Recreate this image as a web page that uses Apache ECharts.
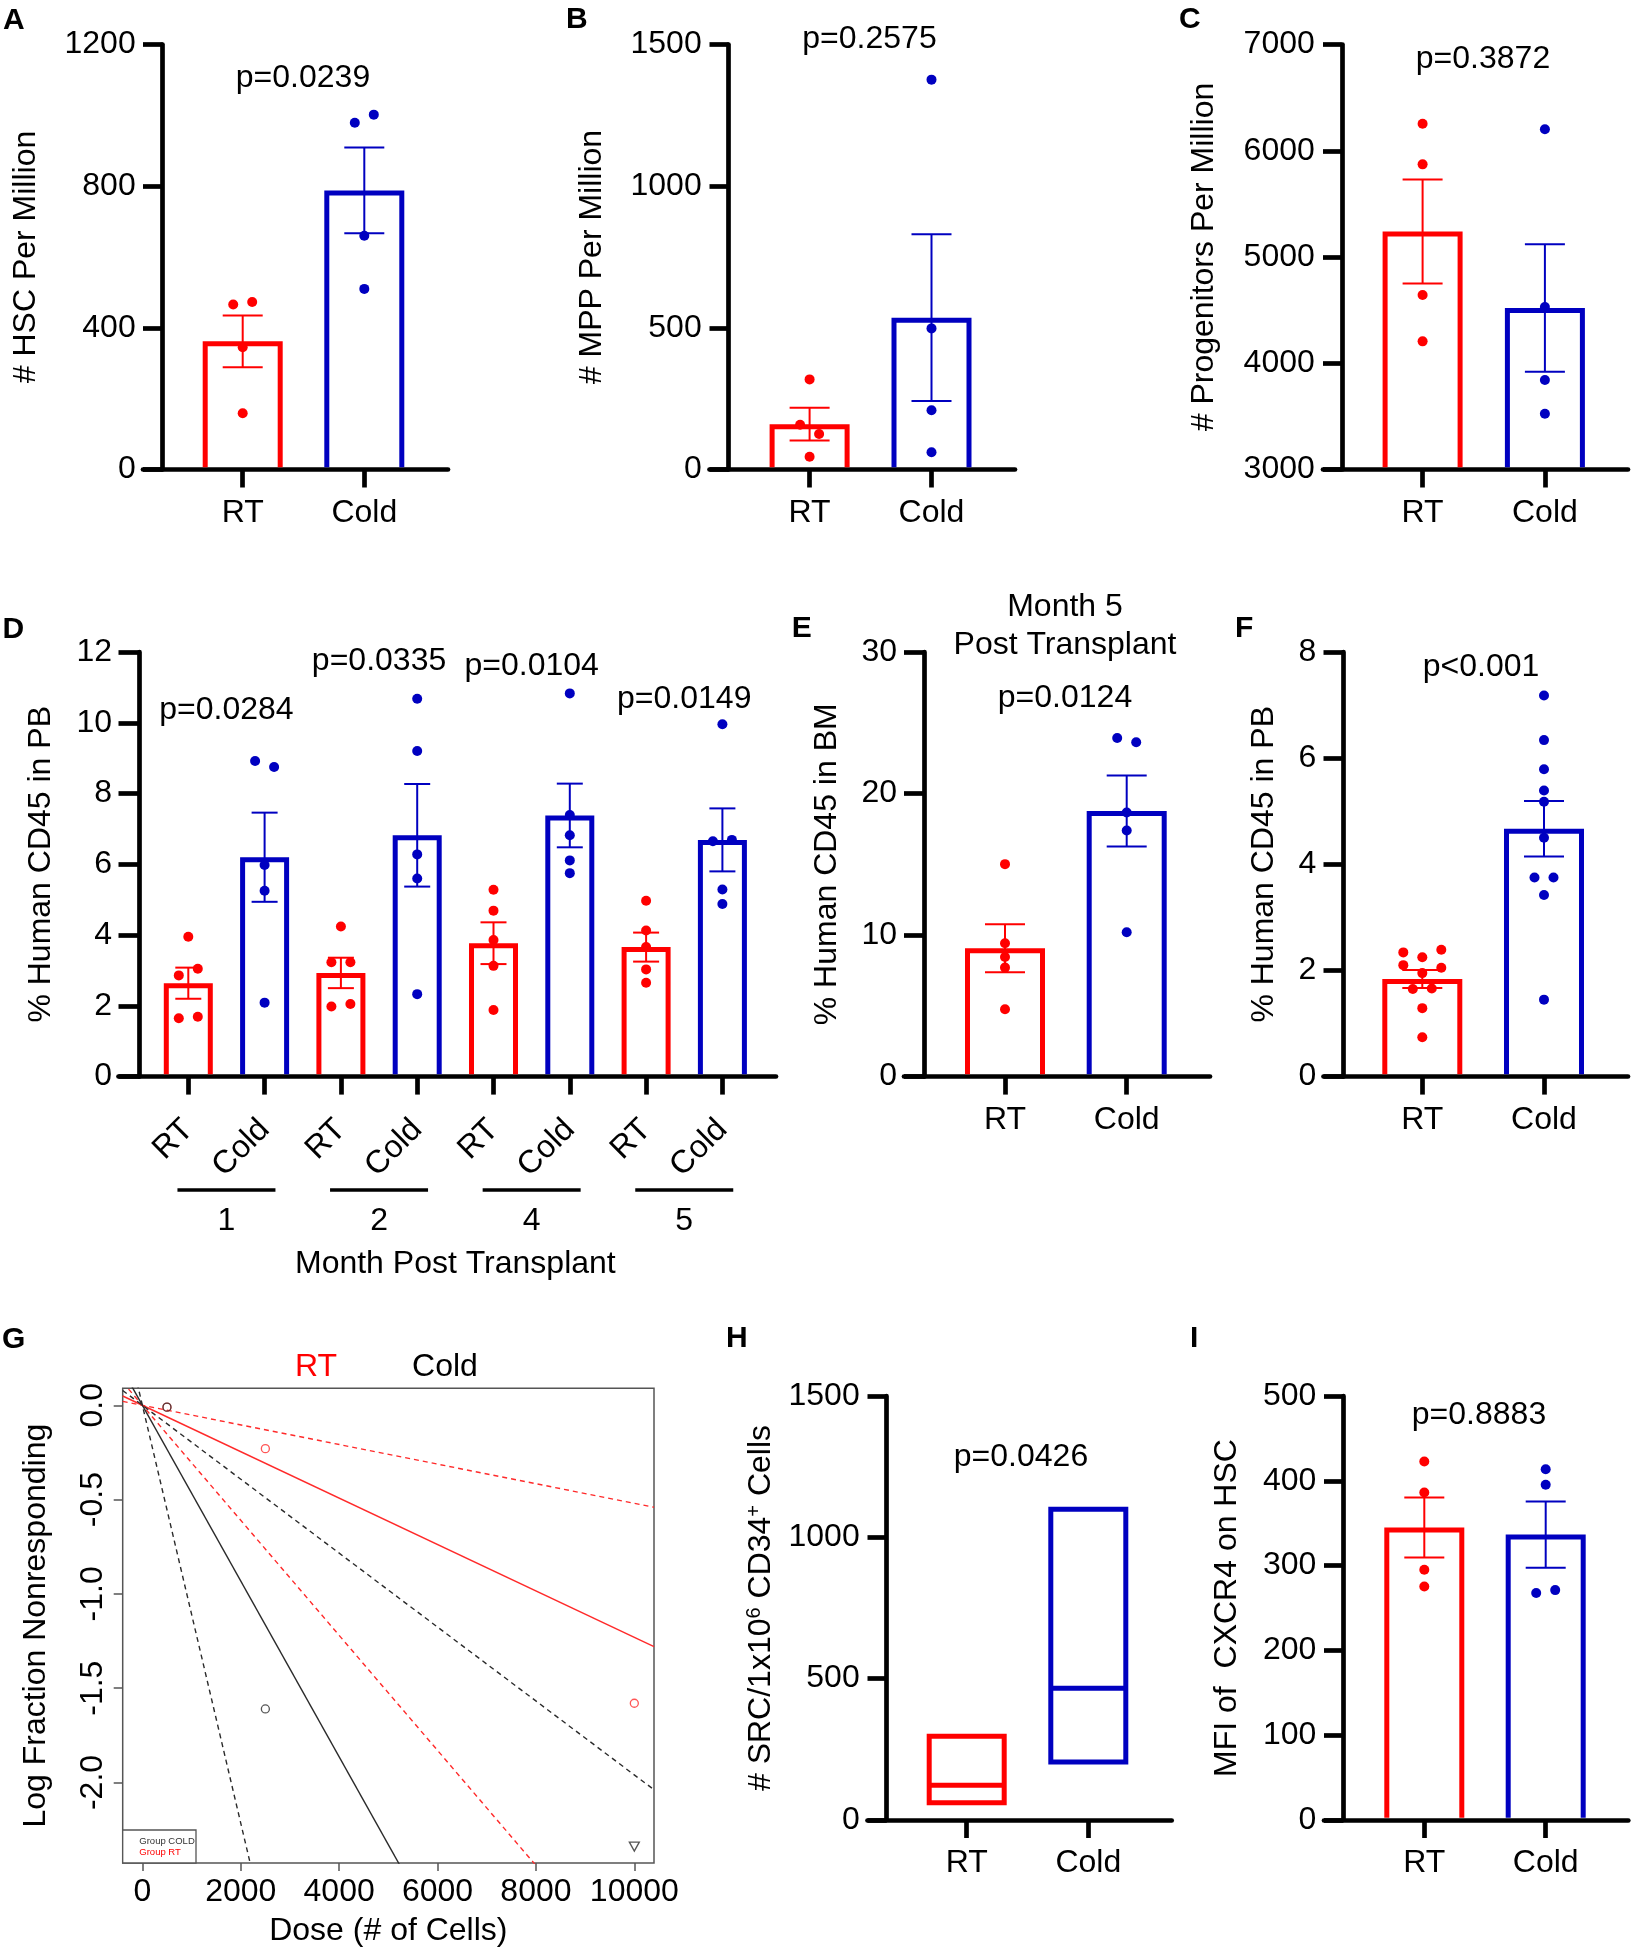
<!DOCTYPE html>
<html><head><meta charset="utf-8">
<script src="https://cdn.jsdelivr.net/npm/echarts@6/dist/echarts.min.js"></script>
<style>html,body{margin:0;padding:0;background:#fff}#c{width:1631px;height:1950px}</style>
</head><body><div id="c"></div>
<script>
// ================= DATA =================
const groupNames = ['RT', 'Cold'];

// A: # HSC per million
const hscMean = [362, 788];
const hscSEM = [73, 121];
const hscRT = [466, 473, 345, 159];
const hscCold = [979, 1002, 660, 510];
const hscP = 'p=0.0239';

// B: # MPP per million
const mppMean = [160, 536];
const mppSEM = [58, 294];
const mppRT = [318, 158, 125, 45];
const mppCold = [1376, 498, 209, 61];
const mppP = 'p=0.2575';

// C: # Progenitors per million
const progMean = [5240, 4520];
const progSEM = [490, 600];
const progRT = [6254, 5872, 4643, 4206];
const progCold = [6203, 4530, 3843, 3525];
const progP = 'p=0.3872';

// D: % human CD45 in PB by month
const pbCategories = ['RT', 'Cold', 'RT', 'Cold', 'RT', 'Cold', 'RT', 'Cold'];
const pbMonths = ['1', '2', '4', '5'];
const pbMean = [2.64, 6.20, 2.93, 6.82, 3.77, 7.38, 3.66, 6.69];
const pbSEM = [0.44, 1.26, 0.43, 1.45, 0.59, 0.90, 0.41, 0.89];
const pbPoints = [
  [3.95, 2.86, 3.05, 1.65, 1.69],
  [8.92, 8.75, 5.98, 5.25, 2.09],
  [4.24, 3.23, 3.23, 1.98, 2.05],
  [10.68, 9.20, 6.28, 5.60, 2.33],
  [5.28, 4.69, 3.86, 3.13, 1.88],
  [10.83, 7.39, 6.82, 6.11, 5.75],
  [4.97, 4.13, 3.66, 3.03, 2.65],
  [9.96, 6.65, 6.69, 5.29, 4.88]
];
const pbP = ['p=0.0284', 'p=0.0335', 'p=0.0104', 'p=0.0149'];

// E: % human CD45 in BM, month 5
const bmMean = [9.07, 18.76];
const bmSEM = [1.69, 2.51];
const bmRT = [15.01, 9.42, 8.45, 7.70, 4.76];
const bmCold = [23.92, 23.62, 18.66, 17.39, 10.20];
const bmP = 'p=0.0124';

// F: % human CD45 in PB
const pb2Mean = [1.84, 4.67];
const pb2SEM = [0.17, 0.525];
const pb2RT = [2.34, 2.25, 2.39, 2.10, 1.95, 2.05, 1.65, 1.66, 1.29, 0.74];
const pb2Cold = [7.18, 6.34, 5.79, 5.39, 5.18, 4.50, 3.75, 3.75, 3.42, 1.45];
const pb2P = 'p<0.001';

// G: limiting dilution
const gDoseTicks = [0, 2000, 4000, 6000, 8000, 10000];
const gLogTicks = [0, -0.5, -1, -1.5, -2];
const rtDoses = [500, 2500, 10000];
const rtLogFrac = [-0.01, -0.23, -1.58];
const coldDoses = [500, 2500];
const coldLogFrac = [-0.01, -1.61];
const coldAllRespDose = [10000];
const coldAllRespLog = [-2.34];

// H: SRC per 1e6 CD34+ cells  [lower, estimate, upper]
const srcRT = [52, 123, 305];
const srcCold = [196, 466, 1108];
const srcP = 'p=0.0426';

// I: MFI of CXCR4 on HSC
const cxcr4Mean = [345, 336.6];
const cxcr4SEM = [35.4, 39];
const cxcr4RT = [422.8, 386.2, 295.1, 275.3];
const cxcr4Cold = [413.6, 395.4, 267.7, 271.1];
const cxcr4P = 'p=0.8883';

// ================= STYLE / LAYOUT =================
const FONT = '"Liberation Sans", Arial, Helvetica, sans-serif';
const RED = '#FF0000', BLUE = '#0000C0', BLACK = '#000000';
const AXW = 4.7;

const grids = [], xAxes = [], yAxes = [], series = [], graphics = [];

function text(x, y, str, o) {
  o = o || {};
  graphics.push({
    type: 'text', x: x, y: y, z: 100, rotation: o.rotation || 0,
    style: {
      text: str, fill: o.color || BLACK, fontSize: o.size || 32,
      fontWeight: o.weight || 'normal', fontFamily: FONT,
      align: o.align || 'center', verticalAlign: 'middle'
    }
  });
}

function dodge(py, thresh, spacing) {
  const order = py.map((_, i) => i).sort((a, b) => (py[a] - py[b]) || (a - b));
  const off = new Array(py.length).fill(0);
  let group = [];
  const flush = () => {
    const g = group.slice().sort((a, b) => a - b);
    g.forEach((idx, k) => { off[idx] = (k - (g.length - 1) / 2) * spacing; });
  };
  order.forEach(i => {
    if (group.length && py[i] - py[group[0]] < thresh) group.push(i);
    else { if (group.length) flush(); group = [i]; }
  });
  if (group.length) flush();
  return off;
}

function barPanel(cfg) {
  const gi = grids.length;
  grids.push({
    left: cfg.xStart, top: cfg.top, width: cfg.xEnd - cfg.xStart,
    height: cfg.bottom - cfg.top, containLabel: false, outerBoundsMode: 'none'
  });
  const cats = cfg.cats;
  const catVals = cats.map((c, i) => i + 1);
  const xMin = 1 - (cfg.cat1 - cfg.xStart) / cfg.spacing;
  const xMax = 1 + (cfg.xEnd - cfg.cat1) / cfg.spacing;
  xAxes.push({
    gridIndex: gi, type: 'value', min: xMin, max: xMax,
    splitLine: { show: false },
    axisLine: { show: true, onZero: false, lineStyle: { color: BLACK, width: AXW } },
    axisTick: { show: true, customValues: catVals, length: 18, lineStyle: { color: BLACK, width: AXW } },
    axisLabel: {
      show: true, customValues: catVals, margin: cfg.labelMargin || 27.5,
      rotate: cfg.rotate || 0, fontSize: 32, color: BLACK, fontFamily: FONT,
      formatter: v => cats[Math.round(v) - 1]
    }
  });
  yAxes.push({
    gridIndex: gi, type: 'value', min: cfg.yMin, max: cfg.yMax, interval: cfg.yInterval,
    offset: -(cfg.yAxisX - cfg.xStart),
    splitLine: { show: false },
    axisLine: { show: true, onZero: false, lineStyle: { color: BLACK, width: AXW } },
    axisTick: { show: true, length: cfg.yAxisX - cfg.xStart, lineStyle: { color: BLACK, width: AXW } },
    axisLabel: { margin: 27, fontSize: 32, color: BLACK, fontFamily: FONT, formatter: v => String(v) },
    name: cfg.yName, nameLocation: 'middle', nameGap: cfg.nameGap, nameMoveOverlap: false,
    nameTextStyle: Object.assign({ fontSize: 32, color: BLACK, fontFamily: FONT }, cfg.nameRich ? { rich: cfg.nameRich } : {})
  });
  const barW = cfg.barW, sw = 5, hw = barW / 2, capHW = cfg.capHW;
  series.push({
    type: 'custom', xAxisIndex: gi, yAxisIndex: gi, clip: false, z: 5,
    data: catVals.map((v, i) => [v, cfg.floating ? cfg.floating[i][1] : cfg.means[i]]),
    renderItem: function (params, api) {
      const i = params.dataIndex;
      const v = i + 1;
      const base = api.coord([v, cfg.yMin]);
      const cx = base[0], yBase = base[1];
      const color = cfg.colors[i];
      const ch = [];
      if (cfg.floating) {
        const f = cfg.floating[i];
        const yLo = api.coord([v, f[0]])[1], yMid = api.coord([v, f[1]])[1], yHi = api.coord([v, f[2]])[1];
        ch.push({ type: 'rect', shape: { x: cx - hw + sw / 2, y: yHi + sw / 2, width: barW - sw, height: yLo - yHi - sw },
          style: { stroke: color, lineWidth: sw, fill: null } });
        ch.push({ type: 'line', shape: { x1: cx - hw + sw / 2, y1: yMid, x2: cx + hw - sw / 2, y2: yMid },
          style: { stroke: color, lineWidth: sw } });
      } else {
        const yTop = api.coord([v, cfg.means[i]])[1];
        const yb = yBase - AXW / 2;
        ch.push({ type: 'polyline', shape: { points: [[cx - hw + sw / 2, yb], [cx - hw + sw / 2, yTop + sw / 2], [cx + hw - sw / 2, yTop + sw / 2], [cx + hw - sw / 2, yb]] },
          style: { stroke: color, lineWidth: sw, fill: null, lineJoin: 'miter' } });
        const yE1 = api.coord([v, cfg.means[i] + cfg.sems[i]])[1];
        const yE2 = api.coord([v, cfg.means[i] - cfg.sems[i]])[1];
        ch.push({ type: 'line', shape: { x1: cx, y1: yE1, x2: cx, y2: yE2 }, style: { stroke: color, lineWidth: 2 } });
        ch.push({ type: 'line', shape: { x1: cx - capHW, y1: yE1, x2: cx + capHW, y2: yE1 }, style: { stroke: color, lineWidth: 2 } });
        ch.push({ type: 'line', shape: { x1: cx - capHW, y1: yE2, x2: cx + capHW, y2: yE2 }, style: { stroke: color, lineWidth: 2 } });
        const pts = cfg.points[i];
        const py = pts.map(p => api.coord([v, p])[1]);
        const off = dodge(py, 10, 19);
        pts.forEach((p, k) => ch.push({ type: 'circle', shape: { cx: cx + off[k], cy: py[k], r: 5 }, style: { fill: color } }));
      }
      return { type: 'group', children: ch };
    }
  });
  return cfg;
}

const two = [RED, BLUE];
const ROW1 = [44.5, 469.5], ROW2 = [652, 1076.6], ROW3 = [1396, 1820];

// A
barPanel({ xStart: 143, yAxisX: 162.7, xEnd: 448, cat1: 242.7, spacing: 121.6, top: ROW1[0], bottom: ROW1[1],
  cats: groupNames, yMin: 0, yMax: 1200, yInterval: 400, yName: '# HSC Per Million', nameGap: 121,
  means: hscMean, sems: hscSEM, points: [hscRT, hscCold], colors: two, barW: 80, capHW: 20 });
// B
barPanel({ xStart: 709.5, yAxisX: 728.7, xEnd: 1015, cat1: 809.6, spacing: 121.9, top: ROW1[0], bottom: ROW1[1],
  cats: groupNames, yMin: 0, yMax: 1500, yInterval: 500, yName: '# MPP Per Million', nameGap: 121,
  means: mppMean, sems: mppSEM, points: [mppRT, mppCold], colors: two, barW: 80, capHW: 20 });
// C
barPanel({ xStart: 1323, yAxisX: 1341.8, xEnd: 1628, cat1: 1422.6, spacing: 122.3, top: ROW1[0], bottom: ROW1[1],
  cats: groupNames, yMin: 3000, yMax: 7000, yInterval: 1000, yName: '# Progenitors Per Million', nameGap: 122,
  means: progMean, sems: progSEM, points: [progRT, progCold], colors: two, barW: 80, capHW: 20 });
// D
const dCfg = barPanel({ xStart: 118.5, yAxisX: 139, xEnd: 776, cat1: 188.3, spacing: 76.3, top: ROW2[0], bottom: ROW2[1],
  cats: pbCategories, yMin: 0, yMax: 12, yInterval: 2, yName: '% Human CD45 in PB', nameGap: 82,
  means: pbMean, sems: pbSEM, points: pbPoints, colors: pbCategories.map((c, i) => i % 2 ? BLUE : RED),
  barW: 49, capHW: 13, rotate: 45, labelMargin: 48 });
// E
barPanel({ xStart: 904, yAxisX: 924, xEnd: 1210, cat1: 1005, spacing: 121.7, top: ROW2[0], bottom: ROW2[1],
  cats: groupNames, yMin: 0, yMax: 30, yInterval: 10, yName: '% Human CD45 in BM', nameGap: 80.5,
  means: bmMean, sems: bmSEM, points: [bmRT, bmCold], colors: two, barW: 80, capHW: 20 });
// F
barPanel({ xStart: 1323.5, yAxisX: 1343.3, xEnd: 1628, cat1: 1422.3, spacing: 121.7, top: ROW2[0], bottom: ROW2[1],
  cats: groupNames, yMin: 0, yMax: 8, yInterval: 2, yName: '% Human CD45 in PB', nameGap: 63,
  means: pb2Mean, sems: pb2SEM, points: [pb2RT, pb2Cold], colors: two, barW: 80, capHW: 20 });
// H
barPanel({ xStart: 867.5, yAxisX: 886.7, xEnd: 1171.7, cat1: 966.7, spacing: 121.6, top: ROW3[0], bottom: ROW3[1],
  cats: groupNames, yMin: 0, yMax: 1500, yInterval: 500,
  yName: '{n|# SRC/1x10}{s|6}{n| CD34}{s|+}{n| Cells}', nameGap: 110,
  nameRich: { n: { fontSize: 32, fontFamily: FONT, color: BLACK, lineHeight: 32 },
              s: { fontSize: 20, fontFamily: FONT, color: BLACK, lineHeight: 14, verticalAlign: 'top' } },
  floating: [srcRT, srcCold], colors: two, barW: 80, capHW: 20 });
// I
barPanel({ xStart: 1324, yAxisX: 1343.3, xEnd: 1628.3, cat1: 1424.3, spacing: 121.4, top: ROW3[0], bottom: ROW3[1],
  cats: groupNames, yMin: 0, yMax: 500, yInterval: 100, yName: 'MFI of  CXCR4 on HSC', nameGap: 100.5,
  means: cxcr4Mean, sems: cxcr4SEM, points: [cxcr4RT, cxcr4Cold], colors: two, barW: 80, capHW: 20 });

// G: limiting dilution plot
(function () {
  const gi = grids.length;
  const GL = 122.7, GT = 1388.3, GR = 654, GB = 1863;
  grids.push({ left: GL, top: GT, width: GR - GL, height: GB - GT, show: true, borderColor: '#555', borderWidth: 1.5,
    backgroundColor: 'transparent', containLabel: false, outerBoundsMode: 'none' });
  xAxes.push({
    gridIndex: gi, type: 'value', min: -400, max: 10400, splitLine: { show: false },
    axisLine: { show: false, onZero: false },
    axisTick: { show: true, customValues: gDoseTicks, length: 8, lineStyle: { color: '#555', width: 1.5 } },
    axisLabel: { customValues: gDoseTicks, margin: 13.5, fontSize: 32, color: BLACK, fontFamily: FONT, formatter: v => String(v) },
    name: 'Dose (# of Cells)', nameLocation: 'middle', nameGap: 52, nameMoveOverlap: false,
    nameTextStyle: { fontSize: 32, color: BLACK, fontFamily: FONT }
  });
  yAxes.push({
    gridIndex: gi, type: 'value', min: -2.427, max: 0.09, splitLine: { show: false },
    axisLine: { show: false, onZero: false },
    axisTick: { show: true, customValues: gLogTicks, length: 9, lineStyle: { color: '#555', width: 1.5 } },
    axisLabel: { customValues: gLogTicks, rotate: 90, margin: 14, fontSize: 32, color: BLACK, fontFamily: FONT, formatter: v => v.toFixed(1) },
    name: 'Log Fraction Nonresponding', nameLocation: 'middle', nameGap: 70.7, nameMoveOverlap: false,
    nameTextStyle: { fontSize: 32, color: BLACK, fontFamily: FONT }
  });
  const ends = [-400, 10400];
  const lineOf = f => ends.map(d => [d, -d * f / 1e6]);
  const GRED = '#FF2A2A', GBLK = '#2a2a2a';
  const mk = (f, color, dashed) => ({
    type: 'line', xAxisIndex: gi, yAxisIndex: gi, data: lineOf(f), symbol: 'none', clip: true, silent: true, z: 3,
    lineStyle: { color: color, width: 1.4, type: dashed ? [5, 4] : 'solid' }
  });
  series.push(mk(srcRT[0], GRED, true), mk(srcRT[1], GRED, false), mk(srcRT[2], GRED, true));
  series.push(mk(srcCold[0], GBLK, true), mk(srcCold[1], GBLK, false), mk(srcCold[2], GBLK, true));
  series.push({ type: 'scatter', xAxisIndex: gi, yAxisIndex: gi, z: 6, symbol: 'circle', symbolSize: 8,
    data: rtDoses.map((d, i) => [d, rtLogFrac[i]]),
    itemStyle: { color: 'rgba(0,0,0,0)', borderColor: GRED, borderWidth: 1.3 } });
  series.push({ type: 'scatter', xAxisIndex: gi, yAxisIndex: gi, z: 7, symbol: 'circle', symbolSize: 8,
    data: coldDoses.map((d, i) => [d, coldLogFrac[i]]),
    itemStyle: { color: 'rgba(0,0,0,0)', borderColor: GBLK, borderWidth: 1.3 } });
  series.push({ type: 'scatter', xAxisIndex: gi, yAxisIndex: gi, z: 7, symbol: 'path://M0,0 L10,0 L5,9 Z', symbolSize: [10, 9],
    data: coldAllRespDose.map((d, i) => [d, coldAllRespLog[i]]),
    itemStyle: { color: 'rgba(0,0,0,0)', borderColor: GBLK, borderWidth: 1.3 } });
  // legend box
  graphics.push({ type: 'rect', z: 90, shape: { x: GL, y: 1830, width: 73.3, height: GB - 1830 },
    style: { fill: '#fff', stroke: '#555', lineWidth: 1.3 } });
  text(139.3, 1841.7, 'Group COLD', { size: 9.5, color: '#333', align: 'left' });
  text(139.3, 1852.7, 'Group RT', { size: 9.5, color: RED, align: 'left' });
  text(316, 1367, 'RT', { color: RED });
  text(445, 1367, 'Cold');
})();

// ================= ANNOTATIONS =================
// panel letters
[['A', 3, 20.3], ['B', 566, 20], ['C', 1179, 20], ['D', 2.5, 630], ['E', 791.7, 629], ['F', 1235, 629],
 ['G', 2, 1339.5], ['H', 726, 1338.5], ['I', 1190, 1339]].forEach(l => text(l[1], l[2], l[0], { weight: 'bold', size: 30, align: 'left' }));

// p-values
text(303, 78.3, hscP);
text(869.5, 38.7, mppP);
text(1483, 59.4, progP);
text(1065, 698, bmP);
text(1481, 667.5, pb2P);
text(1021, 1457.5, srcP);
text(1479, 1414.7, cxcr4P);
const dPY = [710.5, 661, 666, 699];
pbMonths.forEach((m, g) => {
  const cx = dCfg.cat1 + (2 * g + 0.5) * dCfg.spacing;
  text(cx, dPY[g], pbP[g]);
  graphics.push({ type: 'line', z: 100, shape: { x1: cx - 49, y1: 1190, x2: cx + 49, y2: 1190 }, style: { stroke: BLACK, lineWidth: 3.5 } });
  text(cx, 1221.5, m);
});
text(dCfg.cat1 + 3.5 * dCfg.spacing, 1264, 'Month Post Transplant');
// E title
text(1065, 607.5, 'Month 5');
text(1065, 645, 'Post Transplant');

const chart = echarts.init(document.getElementById('c'), null, { renderer: 'canvas' });
chart.setOption({
  animation: false, backgroundColor: '#ffffff', textStyle: { fontFamily: FONT },
  grid: grids, xAxis: xAxes, yAxis: yAxes, series: series, graphic: graphics
});
</script></body></html>
